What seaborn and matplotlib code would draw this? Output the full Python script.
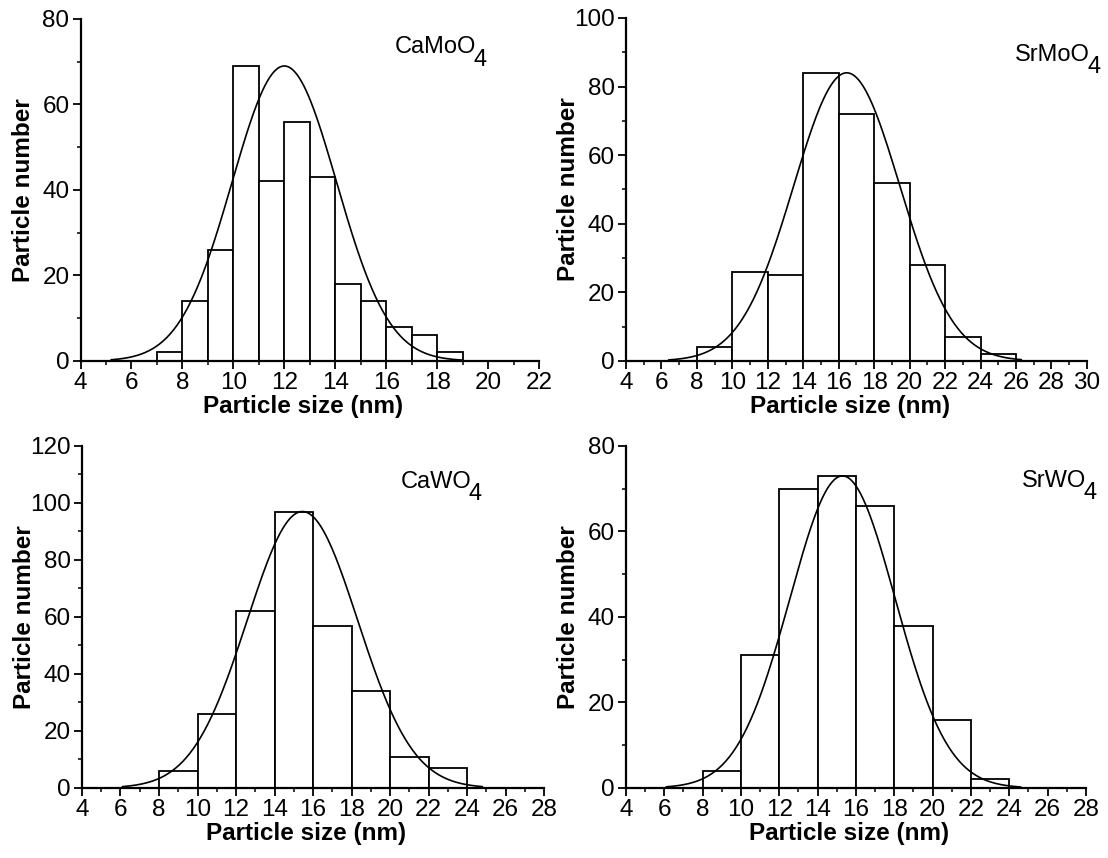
import numpy as np
import pandas as pd
import seaborn as sns
import matplotlib.pyplot as plt
from matplotlib.ticker import MultipleLocator

# histogram bin edges and counts
camoo4_edges = [7, 8, 9, 10, 11, 12, 13, 14, 15, 16, 17, 18, 19]
camoo4_counts = [2, 14, 26, 69, 42, 56, 43, 18, 14, 8, 6, 2]

srmoo4_edges = [8, 10, 12, 14, 16, 18, 20, 22, 24, 26]
srmoo4_counts = [4, 26, 25, 84, 72, 52, 28, 7, 2]

cawo4_edges = [8, 10, 12, 14, 16, 18, 20, 22, 24]
cawo4_counts = [6, 26, 62, 97, 57, 34, 11, 7]

srwo4_edges = [8, 10, 12, 14, 16, 18, 20, 22, 24]
srwo4_counts = [4, 31, 70, 73, 66, 38, 16, 2]

# gaussian fit: amplitude, centre, sigma, drawn range
camoo4_fit = (69, 12.0, 2.05, 5.2, 19.0)
srmoo4_fit = (84, 16.45, 3.0, 6.4, 26.3)
cawo4_fit = (97, 15.45, 2.87, 6.1, 24.8)
srwo4_fit = (73, 15.3, 2.75, 6.1, 24.6)

names = ["CaMoO", "SrMoO", "CaWO", "SrWO"]
subscript = "4"
x_limits = [(4, 22), (4, 30), (4, 28), (4, 28)]
y_limits = [(0, 80), (0, 100), (0, 120), (0, 80)]

sns.set_style("ticks")
plt.rcParams['font.family'] = ['Liberation Sans', 'DejaVu Sans']
plt.rcParams['text.color'] = 'black'
plt.rcParams['axes.labelcolor'] = 'black'
plt.rcParams['xtick.color'] = 'black'
plt.rcParams['ytick.color'] = 'black'

fig = plt.figure(figsize=(11.08, 8.58), dpi=100)
positions = [
    [0.0727, 0.5793, 0.4138, 0.3986],
    [0.565, 0.5793, 0.416, 0.3998],
    [0.074, 0.0816, 0.417, 0.3986],
    [0.565, 0.0816, 0.415, 0.3986],
]
label_pos = [(0.686, 0.90), (0.844, 0.875), (0.69, 0.877), (0.861, 0.88)]

panels = [
    (camoo4_edges, camoo4_counts, camoo4_fit),
    (srmoo4_edges, srmoo4_counts, srmoo4_fit),
    (cawo4_edges, cawo4_counts, cawo4_fit),
    (srwo4_edges, srwo4_counts, srwo4_fit),
]

for i, (edges, counts, fit) in enumerate(panels):
    ax = fig.add_axes(positions[i])
    centers = [(a + b) / 2 for a, b in zip(edges[:-1], edges[1:])]
    df = pd.DataFrame({"size": centers, "count": counts})

    sns.histplot(data=df, x="size", weights="count", bins=list(edges), ax=ax,
                 color="white", edgecolor="black", linewidth=1.3, alpha=1)

    amp, mu, sig, x0, x1 = fit
    xs = np.linspace(x0, x1, 300)
    ys = amp * np.exp(-(xs - mu) ** 2 / (2 * sig ** 2))
    sns.lineplot(x=xs, y=ys, ax=ax, color="black", linewidth=1.2)

    ax.set_xlim(*x_limits[i])
    ax.set_ylim(*y_limits[i])
    ax.xaxis.set_major_locator(MultipleLocator(2))
    ax.xaxis.set_minor_locator(MultipleLocator(1))
    ax.yaxis.set_major_locator(MultipleLocator(20))
    ax.yaxis.set_minor_locator(MultipleLocator(10))
    ax.tick_params(which="major", direction="out", length=6, width=1.3,
                   labelsize=17.5, pad=2, color="black")
    ax.tick_params(which="minor", direction="out", length=3, width=1.1,
                   color="black")
    sns.despine(ax=ax)
    for side in ["left", "bottom"]:
        ax.spines[side].set_linewidth(1.6)
        ax.spines[side].set_color("black")

    ax.set_xlabel("Particle size (nm)", fontsize=17.5, fontweight="bold")
    ax.set_ylabel("Particle number", fontsize=17.5, fontweight="bold")
    ax.xaxis.set_label_coords(0.485, -0.1)
    ax.yaxis.set_label_coords(-0.1, 0.5)

    tx, ty = label_pos[i]
    txt = ax.text(tx, ty, names[i], transform=ax.transAxes, fontsize=17,
                  ha="left", va="baseline")
    ax.annotate(subscript, xy=(1, 0), xycoords=txt, xytext=(-2, -1),
                textcoords="offset points", fontsize=17, ha="left", va="center")

fig.savefig("out.png", dpi=100)
